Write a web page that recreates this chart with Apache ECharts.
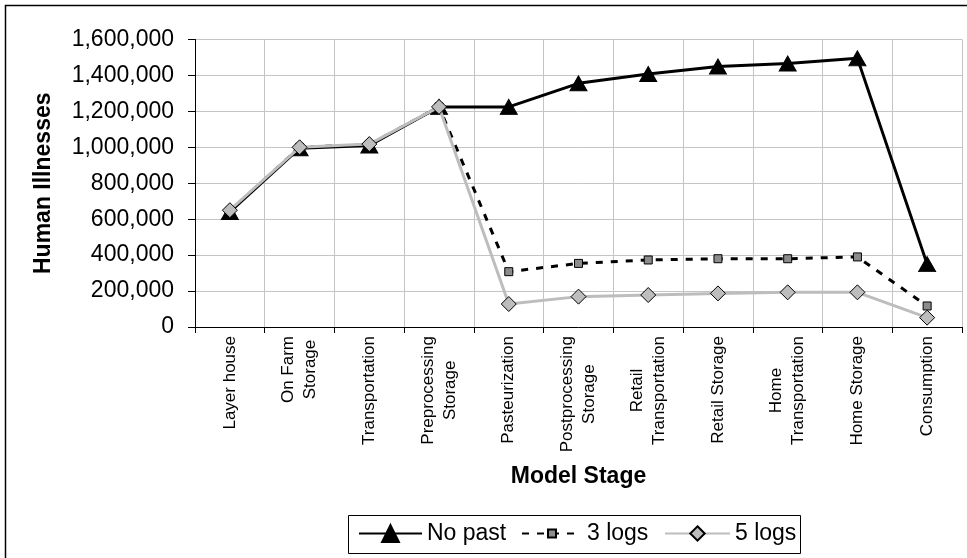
<!DOCTYPE html>
<html>
<head>
<meta charset="utf-8">
<script src="https://cdn.jsdelivr.net/npm/echarts@6/dist/echarts.min.js"></script>
<style>
  html, body { margin: 0; padding: 0; background: #fff; }
  #chart { width: 967px; height: 558px; }
</style>
</head>
<body>
<div id="chart"></div>
<script>
// Model stages along the egg production-to-consumption pathway
const categories = [
  'Layer house', 'On Farm\nStorage', 'Transportation', 'Preprocessing\nStorage',
  'Pasteurization', 'Postprocessing\nStorage', 'Retail\nTransportation',
  'Retail Storage', 'Home\nTransportation', 'Home Storage', 'Consumption'
];

// Predicted human illnesses at each stage
const noPast = [640000, 995000, 1010000, 1225000, 1225000, 1356000, 1408000, 1450000, 1466000, 1495000, 350000];
const threeLogs = [645000, 1000000, 1015000, 1225000, 308000, 354000, 373000, 380000, 380000, 390000, 117000];
const fiveLogs = [650000, 1000000, 1018000, 1225000, 128000, 169000, 178000, 187000, 193000, 193000, 52000];

const yTicks = { min: 0, max: 1600000, interval: 200000 };

const FONT = '"Liberation Sans", Arial, sans-serif';
const GRID_COLOR = '#c4c4c4';

const chart = echarts.init(document.getElementById('chart'), null, { renderer: 'canvas' });

function legendFor(name, left, itemWidth, itemHeight) {
  return {
    data: [name],
    left: left,
    top: 522,
    padding: 0,
    itemWidth: itemWidth,
    itemHeight: itemHeight,
    selectedMode: false,
    textStyle: { fontFamily: FONT, fontSize: 23, color: '#000' }
  };
}

chart.setOption({
  animation: false,
  backgroundColor: '#fff',
  graphic: [
    {
      type: 'rect', z: 0,
      shape: { x: 5.5, y: 5.5, width: 1000, height: 1000 },
      style: { fill: 'none', stroke: '#000', lineWidth: 1.5 }
    },
    {
      type: 'rect', z: 0,
      shape: { x: 348.5, y: 515.5, width: 452, height: 38 },
      style: { fill: '#fff', stroke: '#000', lineWidth: 1 }
    }
  ],
  legend: [
    legendFor('No past', 358, 63, 21),
    legendFor('3 logs', 521, 60, 10),
    legendFor('5 logs', 664, 65, 18)
  ],
  grid: { left: 195, right: 5, top: 39.5, bottom: 231, containLabel: false },
  xAxis: {
    type: 'category',
    data: categories,
    boundaryGap: true,
    name: 'Model Stage',
    nameLocation: 'middle',
    nameGap: 138,
    nameTextStyle: { fontFamily: FONT, fontSize: 23, fontWeight: 'bold', color: '#000' },
    axisLine: { lineStyle: { color: '#000', width: 1 } },
    axisTick: { show: true, length: 6, lineStyle: { color: '#000' }, interval: 0 },
    splitLine: { show: true, interval: 0, lineStyle: { color: GRID_COLOR, width: 1 } },
    axisLabel: {
      interval: 0,
      rotate: 90,
      margin: 9,
      color: '#000',
      fontFamily: FONT,
      fontSize: 17,
      lineHeight: 22,
      formatter: function (v) {
        return v.split('\n').map(function (s) { return '{c|' + s + '}'; }).join('\n');
      },
      rich: {
        c: { align: 'center', fontFamily: FONT, fontSize: 17, lineHeight: 22, color: '#000' }
      }
    }
  },
  yAxis: {
    type: 'value',
    min: yTicks.min,
    max: yTicks.max,
    interval: yTicks.interval,
    name: 'Human Illnesses',
    nameLocation: 'middle',
    nameGap: 140,
    nameTextStyle: { fontFamily: FONT, fontSize: 23, fontWeight: 'bold', color: '#000' },
    axisLine: { show: true, lineStyle: { color: '#000', width: 1 } },
    axisTick: { show: true, length: 7, lineStyle: { color: '#000' } },
    splitLine: { show: true, lineStyle: { color: GRID_COLOR, width: 1 } },
    axisLabel: {
      margin: 21,
      color: '#000',
      fontFamily: FONT,
      fontSize: 23,
      formatter: function (v) { return v.toLocaleString('en-US'); }
    }
  },
  series: [
    {
      name: 'No past',
      type: 'line',
      data: noPast,
      symbol: 'triangle',
      symbolSize: [17, 15],
      lineStyle: { color: '#000', width: 3 },
      itemStyle: { color: '#000', borderColor: '#000', borderWidth: 1 },
      z: 2
    },
    {
      name: '3 logs',
      type: 'line',
      data: threeLogs,
      symbol: 'rect',
      symbolSize: 8,
      lineStyle: { color: '#000', width: 3, type: [7, 8] },
      itemStyle: { color: '#8c8c8c', borderColor: '#000', borderWidth: 1 },
      z: 3
    },
    {
      name: '5 logs',
      type: 'line',
      data: fiveLogs,
      symbol: 'diamond',
      symbolSize: 15,
      lineStyle: { color: '#bdbdbd', width: 3 },
      itemStyle: { color: '#bdbdbd', borderColor: '#000', borderWidth: 1 },
      z: 4
    }
  ]
});
</script>
</body>
</html>
